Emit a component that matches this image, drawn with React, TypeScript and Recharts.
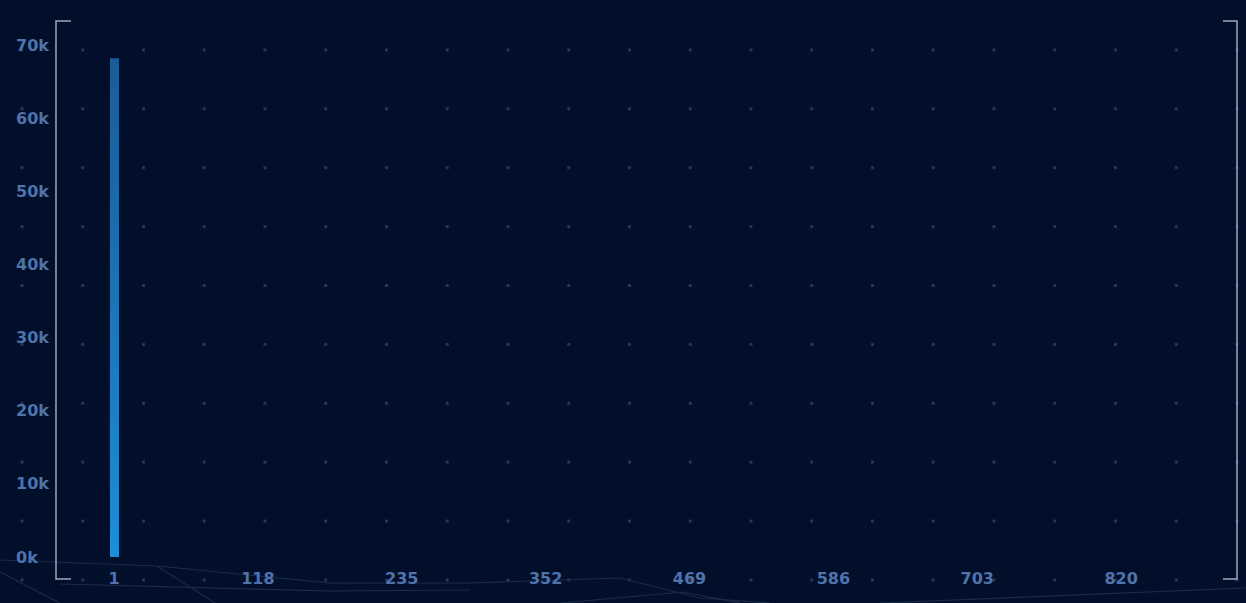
import { BarChart, Bar, XAxis, YAxis, Cell } from 'recharts'

// Hit counts by rank; only rank 1 is tall enough to see
const ranks = [1]
const hits = [68200]

const xTicks = [1, 118, 235, 352, 469, 586, 703, 820]
const xDomain: [number, number] = [1, 902]
const yTicks = [0, 10000, 20000, 30000, 40000, 50000, 60000, 70000]

const data = ranks.map((r, i) => ({ rank: r, hits: hits[i] }))

const LABEL = '#4f73aa'
const FONT = '"DejaVu Sans", sans-serif'

function XTick(props: any) {
  const { x, y, payload } = props
  return (
    <text x={x} y={y + 13} textAnchor="middle" dominantBaseline="central"
      fill={LABEL} fontFamily={FONT} fontWeight="bold" fontSize={16}>
      {payload.value}
    </text>
  )
}

function YTick(props: any) {
  const { y, payload } = props
  return (
    <text x={16} y={y} textAnchor="start" dominantBaseline="central"
      fill={LABEL} fontFamily={FONT} fontWeight="bold" fontSize={16}>
      {`${payload.value / 1000}k`}
    </text>
  )
}

// faint decorative lines along the bottom edge
const decoLines = [
  '0,560 157,566 330,583 470,583 620,578 700,598 770,603',
  '157,566 215,603',
  '0,572 60,603',
  '60,584 330,591 470,590',
  '560,603 683,592 740,603',
  '880,603 1246,588',
]

export default function App() {
  return (
    <div
      style={{
        position: 'relative',
        width: 1246,
        height: 603,
        background: '#020f2b',
        backgroundImage: 'radial-gradient(circle, #26395a 1.3px, transparent 1.8px)',
        backgroundSize: '60.75px 58.9px',
        backgroundPosition: '-8.4px 20.5px',
        overflow: 'hidden',
      }}
    >
      <style>{'body{margin:0;background:#020f2b}'}</style>
      <svg width={1246} height={603} style={{ position: 'absolute', left: 0, top: 0 }}>
        {decoLines.map((p, i) => (
          <polyline key={i} points={p} fill="none" stroke="#1a2b4b" strokeWidth={1.2} />
        ))}
        <polyline points="71,21 56,21 56,579 71,579" fill="none" stroke="#9aa7c0" strokeWidth={1.5} />
        <polyline points="1223,21 1237,21 1237,579 1223,579" fill="none" stroke="#9aa7c0" strokeWidth={1.5} />
      </svg>
      <div style={{ position: 'absolute', left: 0, top: 0 }}>
        <BarChart width={1246} height={603} data={data}
          margin={{ top: 45, right: 24, bottom: 0, left: 0 }}>
          <defs>
            <linearGradient id="barFill" x1="0" y1="0" x2="0" y2="1">
              <stop offset="0%" stopColor="#1b5b97" />
              <stop offset="100%" stopColor="#1c8ed7" />
            </linearGradient>
          </defs>
          <XAxis dataKey="rank" type="number" domain={xDomain} ticks={xTicks}
            axisLine={false} tickLine={false} height={46} tick={<XTick />}
            interval={0} />
          <YAxis type="number" domain={[0, 70000]} ticks={yTicks} width={114}
            axisLine={false} tickLine={false} tick={<YTick />} interval={0} />
          <Bar dataKey="hits" barSize={9} isAnimationActive={false}>
            {data.map((d) => (
              <Cell key={d.rank} fill="url(#barFill)" />
            ))}
          </Bar>
        </BarChart>
      </div>
    </div>
  )
}
